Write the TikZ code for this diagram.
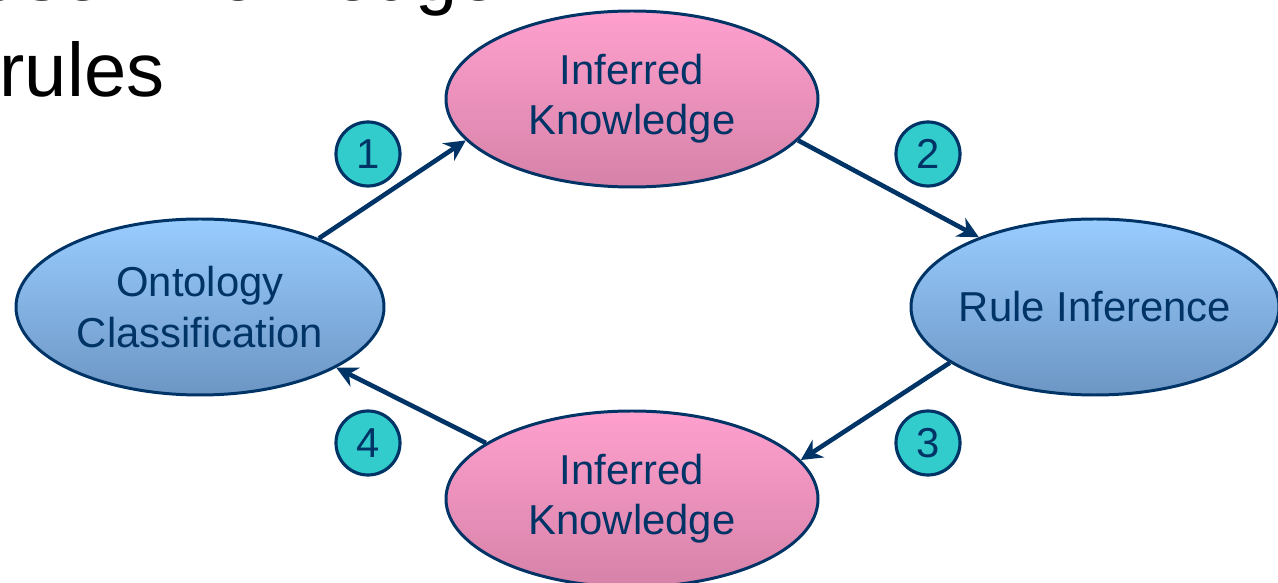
\documentclass[tikz,border=0pt]{standalone}
\usepackage{fontspec}
\setmainfont{Liberation Sans}
\usepackage{tikz}
\usetikzlibrary{shapes.geometric,arrows.meta}
\definecolor{navy}{RGB}{0,51,102}
\definecolor{pinktop}{RGB}{255,160,206}
\definecolor{pinkbot}{RGB}{214,130,168}
\definecolor{bluetop}{RGB}{153,204,255}
\definecolor{bluebot}{RGB}{108,150,196}
\definecolor{badge}{RGB}{51,204,204}
\tikzstyle{headline}   = [inner sep=0pt, font=\fontsize{21.6}{25}\selectfont, text=black]
\tikzstyle{cycleell}   = [ellipse, draw=navy, line width=0.85pt, text=navy, align=center, inner xsep=-0.3cm, inner ysep=0pt, font=\fontsize{11.9}{14.3}\selectfont, minimum height=1.76cm]
\tikzstyle{pinkell}    = [cycleell, top color=pinktop, bottom color=pinkbot, minimum width=3.72cm]
\tikzstyle{blueell}    = [cycleell, top color=bluetop, bottom color=bluebot, minimum width=3.68cm]
\tikzstyle{stepnum}    = [circle, draw=navy, line width=0.9pt, fill=badge, text=navy, minimum size=0.64cm, inner sep=0pt, font=\fontsize{11.9}{14.3}\selectfont]
\tikzstyle{cyclearrow} = [line width=1.3pt, navy, -{Stealth[length=2.1mm,width=2.1mm]}]
\begin{document}
\begin{tikzpicture}[]
        \useasboundingbox (0,0) rectangle (12.78,5.83);
        \clip (0,0) rectangle (12.78,5.83);

        \node[headline, anchor=base east] (hdA) at (5.01,5.82) {use Knowledge};
        \node[headline, anchor=base west] (hdB) at (-0.01,4.86) {rules};

        \node[blueell] (onto) at (2.00,2.76) {Ontology\\Classification};
        \node[pinkell] (infA) at (6.32,4.84) {Inferred\\Knowledge};
        \node[blueell] (rule) at (10.95,2.76) {Rule Inference};
        \node[pinkell] (infB) at (6.32,0.84) {Inferred\\Knowledge};

        \draw[cyclearrow] (onto.30) -- (infA.194);
        \draw[cyclearrow] (infA.-14) -- (rule.149);
        \draw[cyclearrow] (rule.201) -- (infB.13);
        \draw[cyclearrow] (infB.159) -- (onto.-24);

        \node[stepnum] (n1) at (3.68,4.29) {1};
        \node[stepnum] (n2) at (9.28,4.29) {2};
        \node[stepnum] (n3) at (9.28,1.40) {3};
        \node[stepnum] (n4) at (3.68,1.40) {4};
    \end{tikzpicture}
\end{document}
